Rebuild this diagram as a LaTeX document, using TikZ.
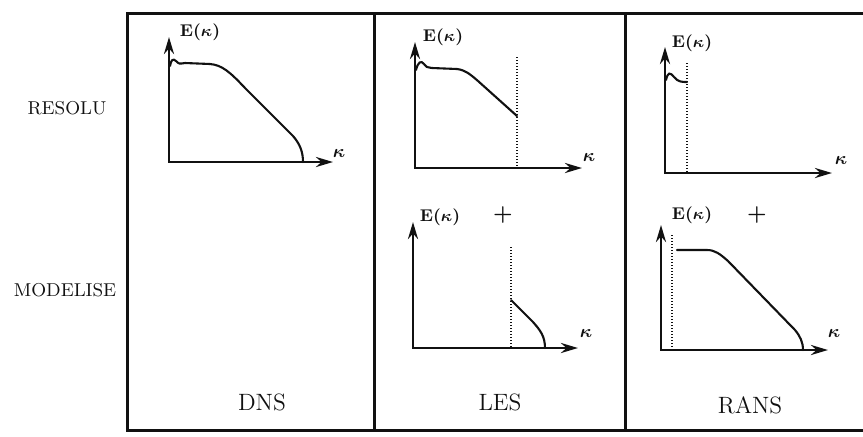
\documentclass[tikz,border=0pt]{standalone}
\usepackage{amsmath,amssymb}
\usepackage{bm}
\usepackage{tikz}
\usepackage{xcolor}
\usetikzlibrary{arrows.meta,positioning}
\definecolor{ink}{HTML}{111111}
\definecolor{paper}{HTML}{FFFFFF}
\tikzset{
  frameline/.style={draw=ink,line width=1.5pt},
  axisarr/.style={{Stealth[length=8.5pt,width=5pt]}-{Stealth[length=8.5pt,width=5pt]},
                  draw=ink,line width=1.4pt},
  spectrum/.style={draw=ink,line width=1.05pt,line cap=round},
  cutline/.style={draw=ink,line width=0.6pt,dash pattern=on 0.5pt off 1pt},
  elab/.style={font=\fontsize{8.5}{9}\selectfont\bfseries\boldmath,inner sep=0pt,text=ink},
  klab/.style={font=\fontsize{9.5}{10}\selectfont\boldmath,inner sep=0pt,text=ink},
  pluslab/.style={font=\fontsize{11}{12}\selectfont\boldmath,inner sep=0pt,text=ink},
  rowlab/.style={font=\fontsize{9.3}{11}\selectfont,inner sep=0pt,text=ink},
  collab/.style={font=\fontsize{11.8}{14}\selectfont,inner sep=0pt,text=ink}
}

\begin{document}
\begin{tikzpicture}[x=0.5pt,y=-0.5pt]
    \path[use as bounding box,fill=paper] (0,0) rectangle (863,436);
    % frame and column dividers
    \draw[frameline] (863,13) -- (127,13) -- (127,430) -- (863,430);
    \draw[frameline] (374,13) -- (374,430);
    \draw[frameline] (625,13) -- (625,430);
    % axes of the five spectra
    \foreach \nm/\ox/\oy/\yt/\xt/\ex/\ey/\kx/\ky in {
        dns/169/162/37/333/200/32/339/153,
        lesr/415/168/42/582/443/37/589/157,
        lesm/413/348/222/578/440/217/586/333,
        ransr/665/173/47/832/692/43/841/160,
        ransm/661/350/225/828/692/215/834/333}{
      \coordinate (\nm-o) at (\ox,\oy);
      \coordinate (\nm-y) at (\ox,\yt);
      \coordinate (\nm-x) at (\xt,\oy);
      \draw[axisarr] (\nm-y) -- (\nm-o) -- (\nm-x);
      \node[elab] (\nm-e) at (\ex,\ey) {E($\kappa$)};
      \node[klab] (\nm-k) at (\kx,\ky) {$\kappa$};
    }
    % spectra
    \draw[spectrum] (170,66) .. controls (171,60) and (173,58) .. (176,61)
      .. controls (179,64) .. (185,63) -- (210,64)
      .. controls (222,65) and (230,72) .. (245,88) -- (293,136)
      .. controls (300,144) and (303,152) .. (303,162);
    \draw[spectrum] (416,70) .. controls (418,62) and (421,60) .. (424,64)
      .. controls (426,67) .. (432,68) -- (457,69)
      .. controls (465,70) and (470,74) .. (478,81) -- (517,116);
    \draw[spectrum] (511,300) -- (533,322)
      .. controls (540,330) and (545,336) .. (545,348);
    \draw[spectrum] (666,80) .. controls (668,72) and (670,72) .. (674,77)
      .. controls (678,82) and (682,82) .. (687,82);
    \draw[spectrum] (677,250) -- (707,250)
      .. controls (715,250) and (720,254) .. (728,261) -- (795,330)
      .. controls (800,336) and (803,342) .. (803,350);
    % cut-off wavenumbers
    \draw[cutline] (517,57) -- (517,168);
    \draw[cutline] (511,247) -- (511,348);
    \draw[cutline] (687,63) -- (687,173);
    \draw[cutline] (672,235) -- (672,350);
    % plus signs
    \node[pluslab] (lesplus) at (503,215) {$\bm{+}$};
    \node[pluslab] (ransplus) at (757,215) {$\bm{+}$};
    % row and column titles
    \node[rowlab] (resolu) at (67,108) {RESOLU};
    \node[rowlab] (modelise) at (65,290) {MODELISE};
    \node[collab] (dns) at (262,402) {DNS};
    \node[collab] (les) at (500,402) {LES};
    \node[collab] (rans) at (750,405) {RANS};
\end{tikzpicture}
\end{document}
